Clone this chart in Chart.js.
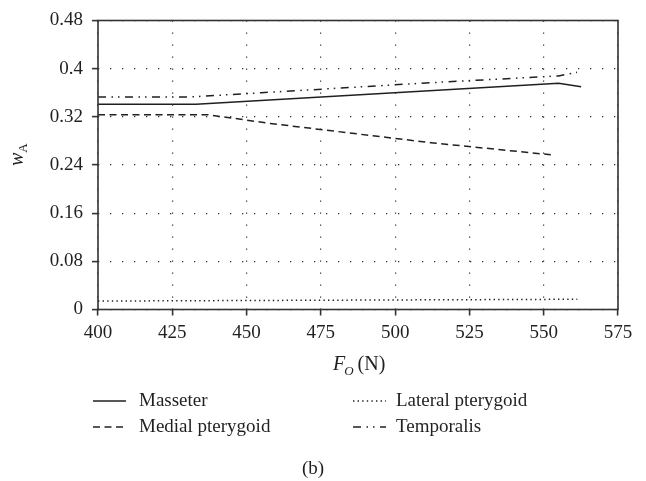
<!DOCTYPE html>
<html>
<head>
<meta charset="utf-8">
<script src="https://cdn.jsdelivr.net/npm/chart.js@4/dist/chart.umd.min.js"></script>
<style>
  body { margin: 0; background: #fff; }
  #wrap { width: 646px; height: 481px; }
</style>
</head>
<body>
<div id="wrap"><canvas id="chart" width="646" height="481"></canvas></div>
<script>
// Valeurs (b)
const xTicks = [400, 425, 450, 475, 500, 525, 550, 575];
const yTicks = [0, 0.08, 0.16, 0.24, 0.32, 0.4, 0.48];

const masseterF = [400, 433, 555, 562.6];
const masseterW = [0.341, 0.341, 0.3756, 0.370];

const lateralF = [400, 561.3];
const lateralW = [0.014, 0.017];

const medialF = [400, 437, 458, 512, 552.4];
const medialW = [0.3235, 0.3235, 0.309, 0.277, 0.257];

const temporalisF = [400, 431, 455, 512, 555, 561.2];
const temporalisW = [0.353, 0.353, 0.360, 0.3767, 0.388, 0.394];

const ink = '#231f20';
const serif = '"Liberation Serif", "DejaVu Serif", serif';

function pts(xs, ys) {
    return xs.map((x, i) => ({ x: x, y: ys[i] }));
}

function serie(label, xs, ys, dash) {
    return {
        label: label,
        data: pts(xs, ys),
        borderColor: ink,
        borderWidth: 1.5,
        borderDash: dash,
        pointRadius: 0,
        tension: 0,
        fill: false
    };
}

// Cadre, titres d'axes et légende dessinés à la main
const decor = {
    id: 'decor',
    afterDatasetsDraw(chart) {
        const ctx = chart.ctx;
        const a = chart.chartArea;
        ctx.save();
        ctx.strokeStyle = '#333';
        ctx.lineWidth = 1.6;
        ctx.setLineDash([]);
        ctx.strokeRect(a.left, a.top, a.right - a.left, a.bottom - a.top);
        ctx.restore();
    },
    afterDraw(chart) {
        const ctx = chart.ctx;
        ctx.save();
        ctx.fillStyle = ink;
        ctx.textBaseline = 'alphabetic';

        // titre axe y : w_A
        ctx.save();
        ctx.translate(23, 166);
        ctx.rotate(-Math.PI / 2);
        ctx.font = 'italic 20px ' + serif;
        ctx.textAlign = 'left';
        ctx.fillText('w', 0, 0);
        const ww = ctx.measureText('w').width;
        ctx.font = '13px ' + serif;
        ctx.fillText('A', ww, 4);
        ctx.restore();

        // titre axe x : F_O (N)
        ctx.textAlign = 'left';
        ctx.font = 'italic 20px ' + serif;
        let x = 333;
        ctx.fillText('F', x, 370);
        x += ctx.measureText('F').width - 1;
        ctx.font = 'italic 13px ' + serif;
        ctx.fillText('O', x, 375);
        x += ctx.measureText('O').width + 4;
        ctx.font = '20px ' + serif;
        ctx.fillText('(N)', x, 370);

        // légende 2 x 2
        const ds = chart.data.datasets;
        const slots = [
            { i: 0, lx: 93, tx: 139, y: 406 },
            { i: 1, lx: 353, tx: 396, y: 406 },
            { i: 2, lx: 93, tx: 139, y: 432 },
            { i: 3, lx: 353, tx: 396, y: 432 }
        ];
        ctx.font = '19px ' + serif;
        slots.forEach(s => {
            const d = ds[s.i];
            ctx.save();
            ctx.strokeStyle = d.borderColor;
            ctx.lineWidth = 1.3;
            ctx.setLineDash(d.borderDash || []);
            ctx.beginPath();
            ctx.moveTo(s.lx, s.y - 5);
            ctx.lineTo(s.lx + 33, s.y - 5);
            ctx.stroke();
            ctx.restore();
            ctx.fillText(d.label, s.tx, s.y);
        });

        // (b)
        ctx.textAlign = 'center';
        ctx.font = '19px ' + serif;
        ctx.fillText('(b)', 313, 474);
        ctx.restore();
    }
};

const gridStyle = {
    color: '#333',
    lineWidth: 1.2,
    drawTicks: true,
    tickLength: 6,
    tickColor: '#333',
    tickWidth: 1.6,
    tickBorderDash: []
};

new Chart(document.getElementById('chart'), {
    type: 'line',
    data: {
        datasets: [
            serie('Masseter', masseterF, masseterW, []),
            serie('Lateral pterygoid', lateralF, lateralW, [1.4, 3.2]),
            serie('Medial pterygoid', medialF, medialW, [7, 4.5]),
            serie('Temporalis', temporalisF, temporalisW, [8, 5.5, 1.5, 5, 1.5, 5.5])
        ]
    },
    options: {
        responsive: false,
        animation: false,
        layout: { padding: { top: 20.5, left: 0, right: 28, bottom: 135.5 } },
        plugins: {
            legend: { display: false },
            tooltip: { enabled: false }
        },
        scales: {
            x: {
                type: 'linear',
                min: 400,
                max: 575,
                afterFit: s => { s.height = 36; },
                afterBuildTicks: s => { s.ticks = xTicks.map(v => ({ value: v })); },
                grid: gridStyle,
                border: { display: false, dash: [1.3, 10.7] },
                ticks: {
                    color: ink,
                    padding: 6,
                    maxRotation: 0,
                    font: { family: serif, size: 19 },
                    callback: v => String(v)
                }
            },
            y: {
                min: 0,
                max: 0.48,
                afterFit: s => { s.width = 98; },
                afterBuildTicks: s => { s.ticks = yTicks.map(v => ({ value: v })); },
                grid: gridStyle,
                border: { display: false, dash: [1.3, 10.7] },
                ticks: {
                    color: ink,
                    padding: 9,
                    font: { family: serif, size: 19 },
                    callback: v => String(v)
                }
            }
        }
    },
    plugins: [decor]
});
</script>
</body>
</html>
